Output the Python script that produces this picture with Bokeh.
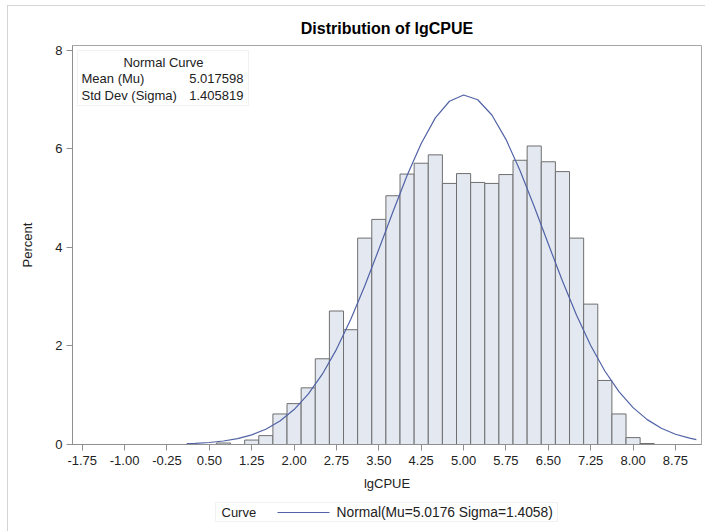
from bokeh.plotting import figure
from bokeh.layouts import column
from bokeh.models import (Range1d, FixedTicker, NumeralTickFormatter, BoxAnnotation,
                          Label)
from bokeh.embed import file_html
from bokeh.resources import INLINE

# ---------------- data ----------------
BIN_MID = [0.75, 1.00, 1.25, 1.50, 1.75, 2.00, 2.25, 2.50, 2.75, 3.00, 3.25, 3.50,
           3.75, 4.00, 4.25, 4.50, 4.75, 5.00, 5.25, 5.50, 5.75, 6.00, 6.25, 6.50,
           6.75, 7.00, 7.25, 7.50, 7.75, 8.00, 8.25]
PERCENT = [0.03, 0.00, 0.09, 0.18, 0.62, 0.83, 1.15, 1.74, 2.71, 2.33, 4.19, 4.57,
           5.05, 5.49, 5.71, 5.88, 5.30, 5.50, 5.32, 5.30, 5.48, 5.77, 6.06, 5.74,
           5.54, 4.19, 2.85, 1.30, 0.62, 0.14, 0.02]
BIN_WIDTH = 0.25

CURVE_X = [0.10, 0.25, 0.50, 0.75, 1.00, 1.25, 1.50, 1.75, 2.00, 2.25, 2.50, 2.75,
           3.00, 3.25, 3.50, 3.75, 4.00, 4.25, 4.50, 4.75, 5.00, 5.25, 5.50, 5.75,
           6.00, 6.25, 6.50, 6.75, 7.00, 7.25, 7.50, 7.75, 8.00, 8.25, 8.50, 8.75,
           9.00, 9.12]
CURVE_Y = [0.016, 0.023, 0.041, 0.071, 0.120, 0.196, 0.310, 0.476, 0.709, 1.022,
           1.427, 1.932, 2.533, 3.219, 3.962, 4.725, 5.460, 6.112, 6.630, 6.968,
           7.094, 6.999, 6.689, 6.195, 5.558, 4.831, 4.069, 3.320, 2.625, 2.011,
           1.492, 1.073, 0.748, 0.505, 0.330, 0.209, 0.128, 0.100]

X_TICKS = [-1.75, -1.00, -0.25, 0.50, 1.25, 2.00, 2.75, 3.50, 4.25, 5.00, 5.75,
           6.50, 7.25, 8.00, 8.75]
Y_TICKS = [0, 2, 4, 6, 8]

TITLE = "Distribution of lgCPUE"
X_LABEL = "lgCPUE"
Y_LABEL = "Percent"
INSET_TITLE = "Normal Curve"
INSET_ROWS = ["Mean (Mu)", "Std Dev (Sigma)"]
INSET_VALUES = ["5.017598", "1.405819"]
LEGEND_TITLE = "Curve"
LEGEND_LABEL = "Normal(Mu=5.0176 Sigma=1.4058)"

# ---------------- geometry / style ----------------
FONT = "Liberation Sans"
TXT = "#222222"
SMALL = "13px"
CURVE_COLOR = "#5163a6"
BOX_LINE = "#cfcfcf"
BORDER = "#d4d4d4"
X_START, X_END = -1.922, 9.211
Y_START, Y_END = 0.0, 8.10
FL, FR, FT, FB = 72, 701, 45, 444     # frame edges in page pixels
OX, OY = 8, 6                          # canvas origin in page pixels
MAIN_BOTTOM = 498                      # page y where the main figure ends
LEG_H = 532 - MAIN_BOTTOM


def dx(px):
    return X_START + (px - FL) * (X_END - X_START) / (FR - FL)


def dy(py):
    return Y_END - (py - FT) * (Y_END - Y_START) / (FB - FT)


p = figure(width=706 - OX, height=MAIN_BOTTOM - OY, x_range=Range1d(X_START, X_END),
           y_range=Range1d(Y_START, Y_END), output_backend="svg",
           toolbar_location=None, title=TITLE,
           min_border_left=FL - OX, min_border_right=706 - FR,
           min_border_top=FT - OY, min_border_bottom=MAIN_BOTTOM - FB)
p.styles = {"margin-left": "7px", "margin-top": "5px",
            "border-left": "1px solid " + BORDER, "border-top": "1px solid " + BORDER}

p.background_fill_color = "white"
p.border_fill_color = "white"
p.outline_line_color = "#a6a6a6"
p.xgrid.visible = False
p.ygrid.visible = False

p.title.text_font = FONT
p.title.text_font_size = "16px"
p.title.text_font_style = "bold"
p.title.text_color = "black"
p.title.align = "center"
p.title.standoff = 17

lefts = [m - BIN_WIDTH / 2 for m in BIN_MID]
rights = [m + BIN_WIDTH / 2 for m in BIN_MID]
p.quad(left=lefts, right=rights, bottom=0, top=PERCENT,
       fill_color="#E3E8F1", line_color="#6f6f6f", line_width=1)

p.line(CURVE_X, CURVE_Y, line_color=CURVE_COLOR, line_width=1.2)

for ax in (p.xaxis[0], p.yaxis[0]):
    ax.axis_line_color = "#8f8f8f"
    ax.major_tick_line_color = "#8f8f8f"
    ax.minor_tick_line_color = None
    ax.major_tick_in = 0
    ax.major_tick_out = 6
    ax.major_label_text_font = FONT
    ax.major_label_text_font_size = SMALL
    ax.major_label_text_color = TXT
    ax.axis_label_text_font = FONT
    ax.axis_label_text_font_size = "13px"
    ax.axis_label_text_font_style = "normal"
    ax.axis_label_text_color = TXT

p.xaxis[0].ticker = FixedTicker(ticks=X_TICKS)
p.xaxis[0].formatter = NumeralTickFormatter(format="0.00")
p.xaxis[0].axis_label = X_LABEL
p.xaxis[0].major_label_standoff = 5
p.xaxis[0].axis_label_standoff = 8

p.yaxis[0].ticker = FixedTicker(ticks=Y_TICKS)
p.yaxis[0].axis_label = Y_LABEL
p.yaxis[0].major_label_standoff = 4
p.yaxis[0].axis_label_standoff = 17


def label(fig, x, y, text, align="left", size=SMALL):
    fig.add_layout(Label(x=x, y=y, text=text, text_align=align,
                         text_baseline="middle", text_font=FONT,
                         text_font_size=size, text_color=TXT))


# inset "Normal Curve" table
p.add_layout(BoxAnnotation(left=dx(77), right=dx(248), top=dy(50), bottom=dy(105),
                           fill_color="white", fill_alpha=1.0,
                           line_color=BOX_LINE, line_width=1))
label(p, dx(163), dy(62), INSET_TITLE, align="center")
for i, (name, val) in enumerate(zip(INSET_ROWS, INSET_VALUES)):
    label(p, dx(81), dy(78 + i * 17), name)
    label(p, dx(243), dy(78 + i * 17), val, align="right")

# bottom legend strip: its own small canvas whose frame lines up with the main
# frame (the column aligns them), so its x units are page pixels
q = figure(width=706 - OX, height=LEG_H, x_range=Range1d(FL, FR),
           y_range=Range1d(532, MAIN_BOTTOM), output_backend="svg",
           toolbar_location=None, x_axis_type=None, y_axis_type=None,
           min_border_left=FL - OX, min_border_right=706 - FR,
           min_border_top=0, min_border_bottom=0)
q.styles = {"margin-left": "7px", "border-left": "1px solid " + BORDER}
q.outline_line_color = None
q.xgrid.visible = False
q.ygrid.visible = False
q.background_fill_color = "white"
q.border_fill_color = "white"

q.add_layout(BoxAnnotation(left=215, right=557, top=503, bottom=522,
                           fill_color=None, line_color=BOX_LINE, line_width=1,
                           level="underlay"))
label(q, 221, 513, LEGEND_TITLE)
q.line([277, 329], [513, 513], line_color=CURVE_COLOR, line_width=1.2)
label(q, 336, 513, LEGEND_LABEL, size="13.8px")

layout = column(p, q, spacing=0)
open("out.html", "w").write(file_html(layout, INLINE))
